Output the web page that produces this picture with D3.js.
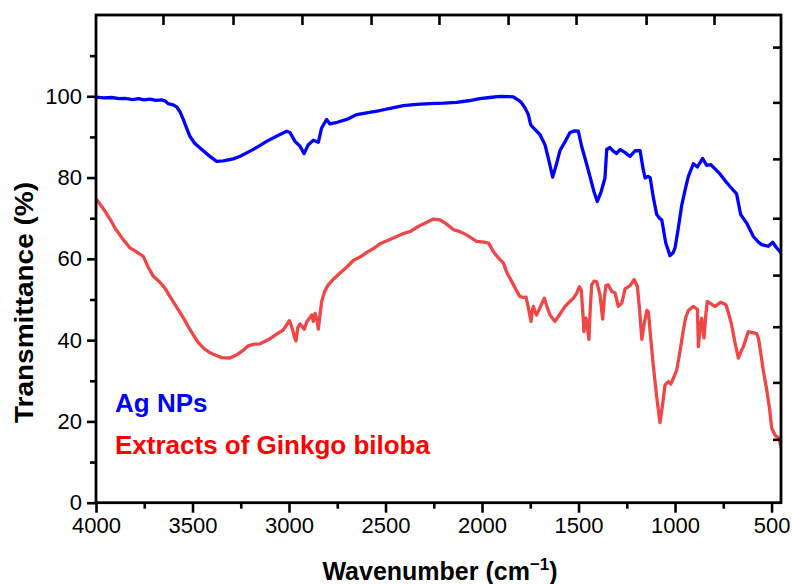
<!DOCTYPE html>
<html>
<head>
<meta charset="utf-8">
<script src="https://cdn.jsdelivr.net/npm/d3@7"></script>
<style>
  html, body { margin: 0; padding: 0; background: #fff; }
  svg { display: block; font-family: "Liberation Sans", Arial, Helvetica, sans-serif; }
</style>
</head>
<body>
<svg id="chart" width="792" height="584"></svg>
<script>
// FTIR spectra: wavenumber (cm^-1) vs transmittance (%)
const agWave = [4000,3960,3920,3880,3850,3810,3780,3750,3720,3690,3660,3640,3627,3600,3582,3565,3548,3530,3513,3490,3461,3420,3375,3340,3289,3250,3202,3160,3116,3060,3012,2995,2969,2943,2922,2900,2874,2848,2831,2805,2788,2750,2701,2649,2590,2529,2470,2408,2340,2270,2200,2131,2070,2011,1960,1907,1860,1838,1810,1795,1776,1760,1748,1735,1700,1674,1655,1634,1615,1596,1570,1544,1520,1501,1484,1462,1441,1420,1403,1383,1363,1354,1337,1320,1302,1285,1260,1233,1207,1181,1165,1155,1140,1129,1112,1095,1080,1069,1048,1026,1010,1000,985,965,945,931,905,884,857,836,815,790,767,740,715,681,660,629,594,570,551,517,494,475,453];
const agT = [99.8,99.6,99.7,99.4,99.5,99.2,99.4,99.1,99.3,99.0,99.1,98.8,98.2,97.9,97.4,96.2,94.3,92.1,90.1,88.5,87.3,85.6,84.0,84.1,84.6,85.3,86.5,87.6,88.9,90.3,91.4,91.1,88.9,87.7,85.9,88.1,89.2,88.7,92.2,94.3,93.2,93.6,94.3,95.5,96.0,96.5,97.1,97.7,98.0,98.2,98.3,98.5,98.9,99.4,99.7,100.0,99.9,99.85,99.0,98.4,97.0,95.5,93.0,92.3,90.6,88.1,84.5,80.1,83.2,86.7,88.8,91.1,91.5,91.4,87.7,84.0,80.3,76.5,74.1,76.5,79.9,86.9,87.4,86.5,85.9,86.9,86.2,85.2,86.6,86.6,82.0,79.9,80.3,80.0,75.0,70.9,70.0,69.6,63.9,60.8,61.5,62.7,67.0,73.3,77.5,80.3,83.4,82.6,84.7,83.0,83.2,82.0,80.9,79.2,77.8,76.0,70.9,68.8,65.5,64.2,63.5,63.1,64.1,62.8,61.6];

const gbWave = [4000,3975,3953,3925,3902,3860,3824,3790,3755,3730,3703,3670,3643,3610,3574,3545,3522,3495,3470,3440,3410,3380,3349,3306,3271,3240,3211,3180,3150,3100,3064,3030,2998,2986,2970,2964,2955,2943,2921,2908,2900,2882,2874,2865,2855,2848,2840,2831,2815,2797,2770,2736,2700,2667,2630,2597,2560,2529,2490,2442,2410,2373,2340,2304,2270,2252,2218,2185,2149,2115,2080,2050,2028,1990,1967,1955,1942,1925,1907,1890,1870,1846,1825,1803,1785,1772,1760,1746,1740,1734,1725,1717,1695,1677,1662,1648,1622,1595,1570,1545,1527,1510,1496,1486,1478,1472,1466,1461,1446,1440,1432,1420,1406,1389,1375,1366,1358,1346,1328,1311,1294,1276,1259,1233,1212,1195,1183,1172,1160,1146,1138,1125,1112,1095,1078,1065,1052,1034,1022,1005,991,975,957,945,931,905,884,879,870,862,850,840,833,815,793,764,736,722,707,690,672,660,646,620,577,568,555,542,525,510,499,480,462,451];
const gbT = [74.7,73.2,71.7,69.6,67.6,64.8,62.7,61.7,60.6,58.0,55.7,54.3,52.8,50.2,47.5,45.3,43.3,41.2,39.4,37.9,36.9,36.3,35.7,35.6,36.4,37.4,38.6,39.0,39.1,40.3,41.5,42.5,44.8,43.3,40.5,39.8,43.0,44.0,42.7,44.5,45.0,46.2,44.6,46.6,45.0,42.7,46.0,49.5,52.0,53.6,55.0,56.5,58.0,59.6,60.5,61.6,62.6,63.7,64.5,65.5,66.2,66.7,67.7,68.6,69.4,69.8,69.6,68.6,67.2,66.7,65.9,65.0,64.3,64.1,63.9,63.0,61.8,60.8,59.8,59.0,56.5,54.4,52.5,50.7,50.5,50.6,48.0,44.6,47.0,48.3,47.0,46.2,48.5,50.3,48.0,46.2,44.6,46.5,48.3,49.5,50.3,51.5,53.1,52.4,47.0,42.1,45.4,45.4,40.2,47.0,53.6,54.5,54.4,51.2,45.2,50.5,53.4,53.6,52.0,51.6,48.3,49.1,52.6,53.4,54.9,53.2,47.0,40.2,44.0,47.3,47.0,40.0,33.5,26.0,19.7,24.0,29.0,29.8,29.2,31.0,32.7,37.0,42.5,45.5,47.3,48.3,47.6,38.4,43.0,45.4,40.5,46.5,49.5,49.0,48.3,49.3,48.7,46.5,43.8,39.5,35.6,37.0,38.4,42.1,41.6,40.5,36.5,32.3,27.8,23.0,18.3,16.5,15.9,13.8];

const seriesNames = ["Ag NPs", "Extracts of Ginkgo biloba"];
const xMajorTicks = [4000, 3500, 3000, 2500, 2000, 1500, 1000, 500];
const xMinorTicks = [3750, 3250, 2750, 2250, 1750, 1250, 750];
const yMajorTicks = [0, 20, 40, 60, 80, 100];
const yMinorTicks = [10, 30, 50, 70, 90, 110];
const topTicks = [3653, 3290, 2933, 2575, 2223, 1865, 1513, 1150, 798];
const rightTicks = [112.1, 98.5, 84.6, 70.0, 56.0, 43.3, 29.6, 15.6];

const xDomain = [4000, 451];
const yDomain = [0, 120];

const svg = d3.select("#chart");
const m = { left: 96, right: 781, top: 15, bottom: 502.7 };

const x = d3.scaleLinear().domain(xDomain).range([m.left, m.right]);
const y = d3.scaleLinear().domain(yDomain).range([m.bottom, m.top]);

svg.append("defs").append("clipPath").attr("id", "plotClip")
  .append("rect")
  .attr("x", m.left).attr("y", m.top)
  .attr("width", m.right - m.left).attr("height", m.bottom - m.top);

// spectra
const line = d3.line().x(d => x(d[0])).y(d => y(d[1]));
const gPlot = svg.append("g").attr("clip-path", "url(#plotClip)");
gPlot.append("path")
  .datum(gbWave.map((w, i) => [w, gbT[i]]))
  .attr("d", line).attr("fill", "none")
  .attr("stroke", "#f04646").attr("stroke-width", 3.3)
  .attr("stroke-linejoin", "round").attr("stroke-linecap", "round");
gPlot.append("path")
  .datum(agWave.map((w, i) => [w, agT[i]]))
  .attr("d", line).attr("fill", "none")
  .attr("stroke", "#0000ff").attr("stroke-width", 3.3)
  .attr("stroke-linejoin", "round").attr("stroke-linecap", "round");

// axes
function styleAxis(g) {
  g.select(".domain").remove();
  g.selectAll(".tick line").attr("stroke", "#000").attr("stroke-width", 2.6);
  g.selectAll(".tick text").attr("fill", "#000").style("font-size", "22px");
}

svg.append("g").attr("transform", `translate(0,${m.bottom})`)
  .call(d3.axisBottom(x).tickValues(xMajorTicks).tickSize(10).tickPadding(5).tickFormat(d3.format("d")))
  .call(styleAxis);
svg.append("g").attr("transform", `translate(0,${m.bottom})`)
  .call(d3.axisBottom(x).tickValues(xMinorTicks).tickSize(6).tickFormat(""))
  .call(styleAxis);

svg.append("g").attr("transform", `translate(${m.left},0)`)
  .call(d3.axisLeft(y).tickValues(yMajorTicks).tickSize(9).tickPadding(5).tickFormat(d3.format("d")))
  .call(styleAxis);
svg.append("g").attr("transform", `translate(${m.left},0)`)
  .call(d3.axisLeft(y).tickValues(yMinorTicks).tickSize(6).tickFormat(""))
  .call(styleAxis);

svg.append("g").attr("transform", `translate(0,${m.top})`)
  .call(d3.axisTop(x).tickValues(topTicks).tickSize(-10).tickFormat(""))
  .call(styleAxis);
svg.append("g").attr("transform", `translate(${m.right},0)`)
  .call(d3.axisRight(y).tickValues(rightTicks).tickSize(-8).tickFormat(""))
  .call(styleAxis);

// frame
svg.append("rect")
  .attr("x", m.left).attr("y", m.top)
  .attr("width", m.right - m.left).attr("height", m.bottom - m.top)
  .attr("fill", "none").attr("stroke", "#000").attr("stroke-width", 2.8);

// axis titles
const xt = svg.append("text")
  .attr("x", 440).attr("y", 580)
  .attr("text-anchor", "middle")
  .style("font-size", "25px").style("font-weight", "bold").attr("fill", "#000");
xt.append("tspan").text("Wavenumber (cm");
xt.append("tspan").attr("dy", -10).style("font-size", "17px").text("\u22121");
xt.append("tspan").attr("dy", 10).text(")");

svg.append("text")
  .attr("transform", "translate(33,302.5) rotate(-90)")
  .attr("text-anchor", "middle")
  .attr("textLength", 241).attr("lengthAdjust", "spacingAndGlyphs")
  .style("font-size", "26px").style("font-weight", "bold").attr("fill", "#000")
  .text("Transmittance (%)");

// series labels
const labelColors = ["#0000ff", "#ff0000"];
const labelY = [412, 454];
svg.selectAll("text.series")
  .data(seriesNames)
  .join("text")
  .attr("class", "series")
  .attr("x", 115).attr("y", (d, i) => labelY[i])
  .attr("fill", (d, i) => labelColors[i])
  .style("font-size", "26px").style("font-weight", "bold")
  .text(d => d);
</script>
</body>
</html>
